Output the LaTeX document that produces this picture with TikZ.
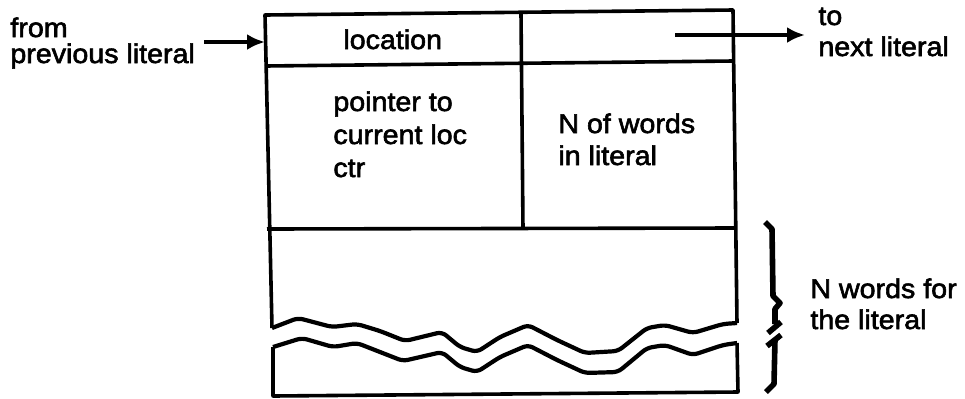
\documentclass[tikz,border=0pt]{standalone}
\usepackage{fontspec}
\setmainfont{Liberation Sans}[FakeStretch=1.06,FakeBold=2.2]
\usetikzlibrary{arrows.meta}
\begin{document}
\begin{tikzpicture}[x=0.5pt,y=-0.5pt,
  frame/.style={line width=1.8pt,line join=round},
  wave/.style={line width=2.1pt,rounded corners=2.5pt,line join=round},
  bracestroke/.style={line width=2.8pt,line join=round},
  lbl/.style={inner sep=0pt,anchor=base west,font=\fontsize{13.5}{16}\selectfont},
  ptr/.style={line width=2pt,-{Latex[length=9pt,width=8pt]}}]
\useasboundingbox (0,0) rectangle (965,398);
% upper part of record
\draw[frame] (272,328) -- (265,15) -- (733,10) -- (737,323);
\draw[frame] (265,66) -- (733,61);
\draw[frame] (521,13) -- (523,229);
\draw[frame] (267,229) -- (735,228);
\draw[wave] (272,328) -- (298,318) -- (332,327) -- (357,324) -- (380,331) -- (405,341)
  -- (442,332) -- (460,347) -- (477,352) -- (500,337) -- (528,325) -- (557,340)
  -- (585,353) -- (618,351) -- (647,328) -- (665,325) -- (693,333) -- (723,324) -- (737,323);
% lower part of record
\draw[wave] (273,347) -- (302,338) -- (333,347) -- (357,343) -- (403,361) -- (442,352)
  -- (460,367) -- (477,372) -- (500,357) -- (528,345) -- (557,360) -- (585,373)
  -- (618,372) -- (647,348) -- (665,345) -- (693,355) -- (723,345) -- (737,343);
\draw[frame] (737,343) -- (738,392) -- (273,396) -- (273,347);
% texts in the cells
\node[lbl] (loc) at (343,49) {location};
\node[lbl] (p1) at (333,111) {pointer to};
\node[lbl] (p2) at (333,144) {current loc};
\node[lbl] (p3) at (333,177) {ctr};
\node[lbl] (n1) at (558,133) {N of words};
\node[lbl] (n2) at (558,165) {in literal};
% left labels and arrow
\node[lbl] (from1) at (10,37) {from};
\node[lbl] (from2) at (10,63) {previous literal};
\coordinate (inS) at (204,42);
\coordinate (inE) at (265,42);
\draw[ptr] (inS) -- (inE);
% right labels and arrow
\node[lbl] (to1) at (818,25) {to};
\node[lbl] (to2) at (818,56) {next literal};
\coordinate (outS) at (675,35);
\coordinate (outE) at (805,35);
\draw[ptr] (outS) -- (outE);
% brace
\draw[bracestroke] (765,222) -- (772,229) -- (773,296) -- (780,303) -- (775,309) -- (775,324);
\draw[bracestroke] (768,333) -- (781,322);
\draw[bracestroke] (767,346) -- (781,335);
\draw[bracestroke] (775,340) -- (774,384) -- (766,392);
\node[lbl] (w1) at (810,298) {N words for};
\node[lbl] (w2) at (810,329) {the literal};
\end{tikzpicture}
\end{document}
